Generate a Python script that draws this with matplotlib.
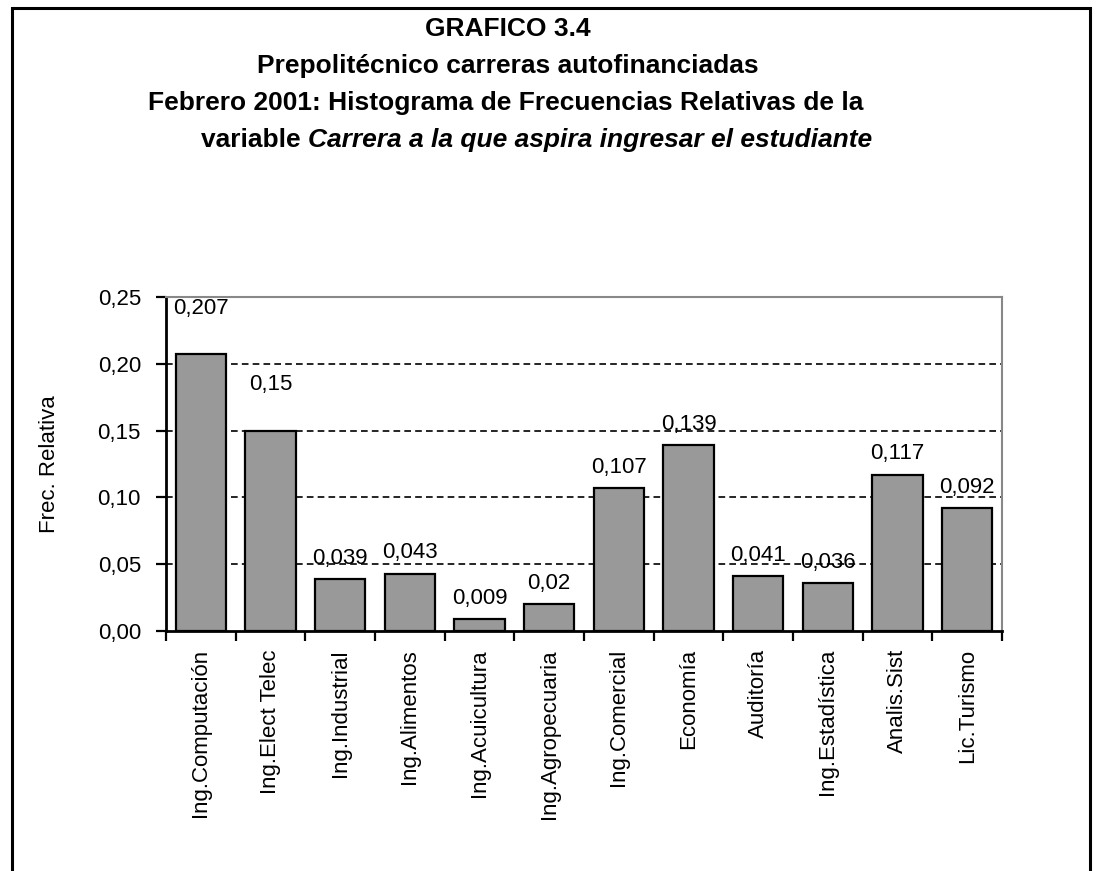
import matplotlib
matplotlib.use("Agg")
import matplotlib.pyplot as plt
from matplotlib.patches import Rectangle

plt.rcParams['font.family'] = ['Liberation Sans', 'DejaVu Sans']

categories = ["Ing.Computación", "Ing.Elect Telec", "Ing.Industrial", "Ing.Alimentos",
              "Ing.Acuicultura", "Ing.Agropecuaria", "Ing.Comercial", "Economía",
              "Auditoría", "Ing.Estadística", "Analis.Sist", "Lic.Turismo"]
values = [0.207, 0.15, 0.039, 0.043, 0.009, 0.02, 0.107, 0.139, 0.041, 0.036, 0.117, 0.092]
value_labels = ["0,207", "0,15", "0,039", "0,043", "0,009", "0,02", "0,107", "0,139",
                "0,041", "0,036", "0,117", "0,092"]
yticks = [0.0, 0.05, 0.10, 0.15, 0.20, 0.25]
ytick_labels = ["0,00", "0,05", "0,10", "0,15", "0,20", "0,25"]
label_offsets_pt = [33, 33, 15, 15, 15, 15, 15, 15, 15, 15, 15, 15]

W, H = 1097, 871
fig = plt.figure(figsize=(W / 100, H / 100), dpi=100)
fig.patch.set_facecolor("white")

# outer frame (extends past bottom edge)
frame = Rectangle((11.5 / W, -0.05), (1089.5 - 11.5) / W, 1.05 - 8.5 / H,
                  transform=fig.transFigure, fill=False, edgecolor="black",
                  linewidth=2.2, clip_on=False)
fig.patches.append(frame)

ax = fig.add_axes([166 / W, 1 - 631 / H, (1002 - 166) / W, (631 - 297) / H])
x = list(range(len(categories)))
ax.bar(x, values, width=0.72, color="#999999", edgecolor="black", linewidth=1.6, zorder=3)
ax.set_xlim(-0.5, len(categories) - 0.5)
ax.set_ylim(0, 0.25)

for yv in yticks[1:-1]:
    ax.axhline(yv, color="black", linestyle=(0, (4, 2.5)), linewidth=1.2, zorder=1)

fs = 16
ax.set_yticks(yticks)
ax.set_yticklabels(ytick_labels, fontsize=fs)
ax.set_xticks([i - 0.5 for i in range(len(categories) + 1)], minor=False)
ax.set_xticklabels([])
ax.set_xticks(x, minor=True)
ax.set_xticklabels(categories, minor=True, rotation=90, fontsize=fs)
ax.tick_params(axis="x", which="minor", length=0, pad=13)
ax.tick_params(axis="x", which="major", direction="out", length=7, width=1.6)
ax.tick_params(axis="y", direction="out", length=7, width=1.6, pad=11)

for s in ["top", "right"]:
    ax.spines[s].set_color("#888888")
    ax.spines[s].set_linewidth(1.5)
for s in ["left", "bottom"]:
    ax.spines[s].set_color("black")
    ax.spines[s].set_linewidth(2)

for xi, v, lab, off in zip(x, values, value_labels, label_offsets_pt):
    ax.annotate(lab, (xi, v), xytext=(0, off), textcoords="offset points",
                ha="center", va="center", fontsize=fs, zorder=4)

ax.set_ylabel("Frec. Relativa", fontsize=fs)
ax.yaxis.label.set_va("center")
ax.yaxis.set_label_coords(-(166 - 50) / (1002 - 166), 0.5)

# title
tfs = 19
fig.text(508 / W, 1 - 29 / H, "GRAFICO 3.4", ha="center", va="center",
         fontsize=tfs, fontweight="bold")
fig.text(508 / W, 1 - 66 / H, "Prepolitécnico carreras autofinanciadas", ha="center",
         va="center", fontsize=tfs, fontweight="bold")
fig.text(506 / W, 1 - 103 / H, "Febrero 2001: Histograma de Frecuencias Relativas de la",
         ha="center", va="center", fontsize=tfs, fontweight="bold")

r = fig.canvas.get_renderer()
t1 = fig.text(0, 1 - 140 / H, "variable ", ha="left", va="center",
              fontsize=tfs, fontweight="bold")
t2 = fig.text(0, 1 - 140 / H, "Carrera a la que aspira ingresar el estudiante",
              ha="left", va="center", fontsize=tfs, fontweight="bold", style="italic")
w1 = t1.get_window_extent(r).width
w2 = t2.get_window_extent(r).width
start = 537 - (w1 + w2) / 2
t1.set_x(start / W)
t2.set_x((start + w1) / W)

fig.savefig("out.png", dpi=100, facecolor="white")
